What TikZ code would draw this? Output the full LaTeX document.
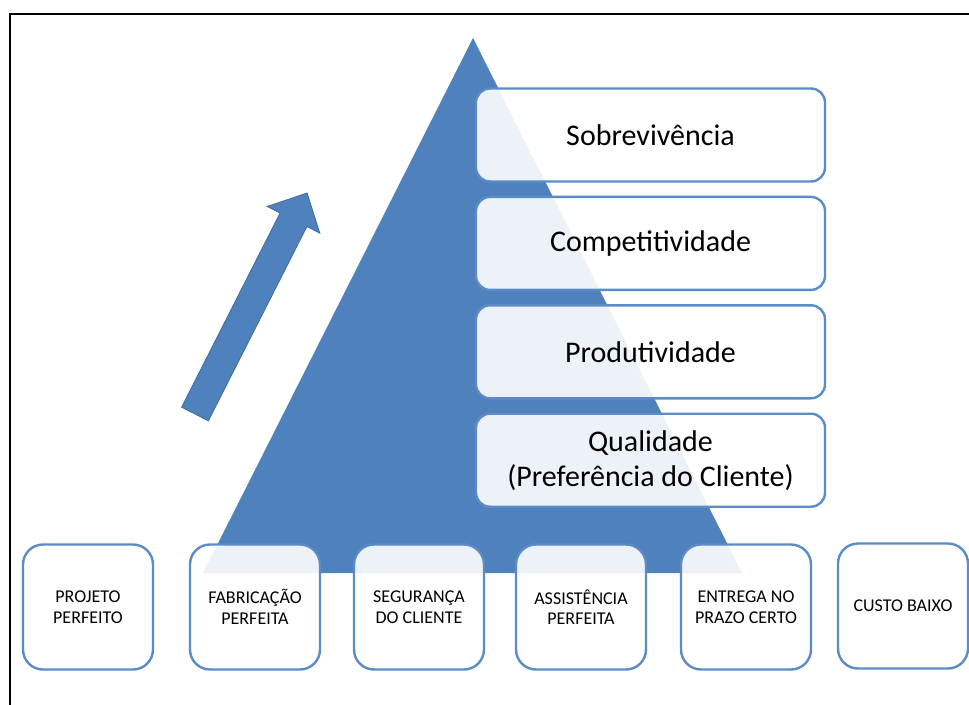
\documentclass[tikz,border=0pt]{standalone}
\usepackage{fontspec}
\setmainfont{Carlito}
\usepackage{tikz}
\usetikzlibrary{positioning}
\definecolor{pyrblue}{HTML}{4F81BD}
\definecolor{edgeblue}{HTML}{5B8CC8}
\definecolor{arrowedge}{HTML}{3F6C9E}

\begin{document}
\begin{tikzpicture}[x=1pt,y=-1pt,
   level/.style={draw=edgeblue,line width=2.4pt,rounded corners=14pt,fill=white,fill opacity=0.9,
                 text opacity=1,minimum width=349pt,minimum height=93pt,align=center,
                 font=\fontsize{30}{35}\selectfont},
   pillar/.style={draw=edgeblue,line width=2.4pt,rounded corners=20pt,fill=white,fill opacity=0.9,
                  text opacity=1,minimum width=130pt,minimum height=125pt,align=center,
                  font=\fontsize{18}{20.5}\selectfont}]
  \clip (0,0) rectangle (969,704);
  \fill[white] (0,0) rectangle (969,704);
  \draw[line width=2.5pt] (10,14) rectangle (990,730);
  % pyramid
  \fill[pyrblue] (473,38) -- (742,573) -- (203,573) -- cycle;
  % rising arrow
  \filldraw[fill=pyrblue,draw=arrowedge,line width=0.8pt,line join=miter]
    (181.6,407.2) -- (280.1,213) -- (267.2,206.5) -- (307.1,193)
    -- (319.8,233.1) -- (306.9,226.6) -- (208.4,420.8) -- cycle;
  % levels
  \node[level] (sob) at (650.5,135) {Sobrevivência};
  \node[level,below=13pt of sob] (comp) {Competitividade};
  \node[level,below=13pt of comp] (prod) {Produtividade};
  \node[level,below=13pt of prod] (qual) {Qualidade\\(Preferência do Cliente)};
  % base
  \node[pillar] (proj) at (88,607) {PROJETO\\PERFEITO};
  \node[pillar] (fab) at (255,607) {FABRICAÇÃO\\PERFEITA};
  \node[pillar] (seg) at (419,607) {SEGURANÇA\\DO CLIENTE};
  \node[pillar] (assist) at (581,607) {ASSISTÊNCIA\\PERFEITA};
  \node[pillar] (entrega) at (746,607) {ENTREGA NO\\PRAZO CERTO};
  \node[pillar] (custo) at (903,606) {CUSTO BAIXO};
\end{tikzpicture}
\end{document}
